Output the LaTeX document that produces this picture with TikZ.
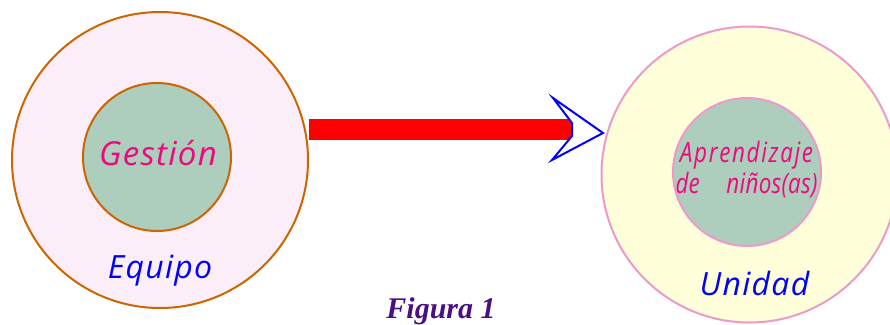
\documentclass[tikz,border=0pt]{standalone}
\usepackage{fontspec}
\usepackage{xcolor}
\usetikzlibrary{positioning}
\setmainfont{Liberation Serif}
\newfontfamily\circfont[LetterSpace=4]{Open Sans}
\newfontfamily\narrowfont[LetterSpace=6,FakeStretch=0.8]{Open Sans}
\definecolor{teamrim}{HTML}{CC6600}
\definecolor{teampink}{HTML}{FCEEF8}
\definecolor{coregreen}{HTML}{ADCEBC}
\definecolor{labelpink}{HTML}{F0077F}
\definecolor{unitrim}{HTML}{EE99CC}
\definecolor{unityellow}{HTML}{FFFFD9}
\definecolor{figpurple}{HTML}{4B0F82}

\begin{document}
\begin{tikzpicture}[x=1pt,y=-1pt,
  ring/.style={circle,draw,line width=2pt,inner sep=0pt,minimum size=296pt},
  core/.style={circle,draw,line width=2pt,inner sep=0pt,minimum size=148pt,fill=coregreen},
  innerlbl/.style={anchor=base,text=labelpink,font=\circfont\itshape\fontsize{33}{36}\selectfont},
  narrowlbl/.style={anchor=base,text=labelpink,font=\narrowfont\itshape\fontsize{28}{30}\selectfont},
  outerlbl/.style={anchor=base,text=blue,font=\circfont\itshape\fontsize{32}{36}\selectfont}]
        \useasboundingbox (0,0) rectangle (890,324);
        \node[ring,draw=teamrim,fill=teampink] (equipo) at (160,160) {};
        \node[core,draw=teamrim] (gestion) at (157,157) {};
        \node[ring,draw=unitrim,fill=unityellow] (unidad) at (749.5,174.5) {};
        \node[core,draw=unitrim] (aprend) at (747,172) {};
        \node[innerlbl] (gestlbl) at (158,165.5) {Gestión};
        \node[outerlbl] (equlbl) at (160,278) {Equipo};
        \node[narrowlbl] (aprlbl) at (746.5,162) {Aprendizaje};
        \node[narrowlbl] (ninlbl) at (746.5,193) {\addfontfeature{LetterSpace=1}\makebox[142pt]{de\hfill niños(as)}};
        \node[outerlbl] (unilbl) at (754.5,295) {Unidad};
        \coordinate (notch) at (572,129.5);
        \draw[red,line width=21pt] (equipo.east |- notch) -- (notch);
        \draw[blue,line width=2pt,fill=white] (553,98) -- (603,133) -- (552,160) -- (572,136) -- (572,123) -- cycle;
        \node[anchor=base,text=figpurple,font=\bfseries\itshape\fontsize{30}{34}\selectfont] (figlbl) at (441,318) {Figura 1};
      \end{tikzpicture}
\end{document}
